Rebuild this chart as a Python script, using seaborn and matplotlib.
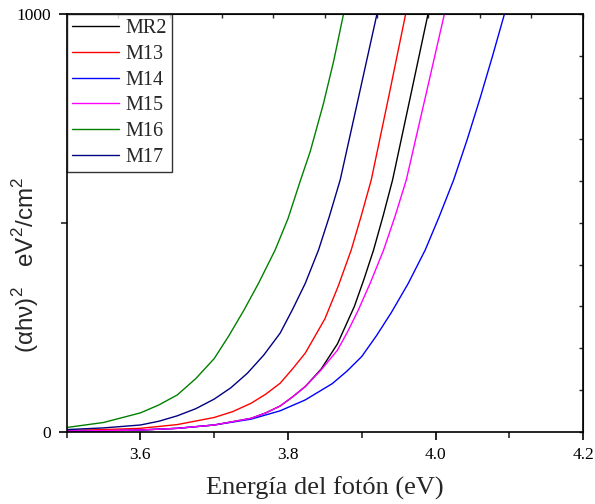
import pandas as pd
import matplotlib
matplotlib.use("Agg")
import matplotlib.pyplot as plt
import seaborn as sns
from matplotlib.ticker import MultipleLocator, FixedLocator, NullFormatter

muestras = ["MR2", "M13", "M14", "M15", "M16", "M17"]
colores = ["#000000", "#FF0000", "#0000FF", "#FF00FF", "#008000", "#000080"]

e_mr2 = [3.50, 3.55, 3.60, 3.65, 3.70, 3.75, 3.77, 3.7894, 3.806, 3.8234, 3.845, 3.867, 3.89,
         3.903, 3.916, 3.929, 3.9418, 3.9658, 3.9898]
a_mr2 = [1.5, 2.5, 4, 8, 16, 32, 45, 61.5, 83, 108, 150, 210, 300,
         365, 435, 517, 603, 801, 1000]

e_m13 = [3.50, 3.55, 3.60, 3.65, 3.70, 3.725, 3.75, 3.77, 3.7894, 3.806, 3.8234, 3.85, 3.868,
         3.8857, 3.899, 3.9129, 3.9364, 3.9595]
a_m13 = [3, 5, 8, 17, 34, 48, 68, 90, 116, 150, 188, 270, 348,
         435, 515, 603, 801, 1000]

e_m14 = [3.50, 3.55, 3.60, 3.65, 3.70, 3.75, 3.7894, 3.8234, 3.86, 3.88, 3.90, 3.92, 3.94,
         3.963, 3.986, 4.005, 4.0246, 4.043, 4.0608, 4.077, 4.0934]
a_m14 = [1, 2, 4, 8, 16, 30, 50, 76, 115, 145, 180, 230, 285,
         355, 435, 515, 603, 700, 801, 898, 1000]

e_m15 = [3.50, 3.55, 3.60, 3.65, 3.70, 3.75, 3.77, 3.7894, 3.806, 3.8234, 3.845, 3.867, 3.881,
         3.895, 3.912, 3.9296, 3.945, 3.9604, 3.973, 3.9862, 4.012]
a_m15 = [1.5, 2.5, 4, 8, 16, 32, 45, 61.5, 83, 108, 148, 195, 240,
         290, 358, 435, 515, 603, 700, 801, 1000]

e_m16 = [3.50, 3.55, 3.60, 3.625, 3.65, 3.675, 3.70, 3.72, 3.74, 3.76, 3.7826, 3.80, 3.8166,
         3.83, 3.848, 3.862, 3.8753]
a_m16 = [10, 22, 45, 64, 88, 127, 175, 230, 290, 355, 435, 510, 600,
         670, 785, 888, 1000]

e_m17 = [3.50, 3.55, 3.60, 3.625, 3.65, 3.675, 3.70, 3.7225, 3.745, 3.767, 3.7894, 3.806,
         3.8234, 3.8414, 3.856, 3.8708, 3.8957, 3.9206]
a_m17 = [5, 9, 16, 25, 38, 55, 78, 105, 140, 183, 236, 292,
         355, 435, 515, 603, 801, 1000]

series = {
    "MR2": (e_mr2, a_mr2), "M13": (e_m13, a_m13), "M14": (e_m14, a_m14),
    "M15": (e_m15, a_m15), "M16": (e_m16, a_m16), "M17": (e_m17, a_m17),
}
frames = [pd.DataFrame({"E": e, "a": a, "muestra": m}) for m, (e, a) in series.items()]
df = pd.concat(frames, ignore_index=True)

sns.set_style("ticks")
plt.rcParams["font.family"] = ["Liberation Serif", "DejaVu Serif"]
plt.rcParams["mathtext.fontset"] = "custom"
plt.rcParams["mathtext.rm"] = "Liberation Sans"

fig = plt.figure(figsize=(5.95, 5.04), dpi=100)
ax = fig.add_axes([0.112, 0.1435, 0.868, 0.8287])

sns.lineplot(data=df, x="E", y="a", hue="muestra", hue_order=muestras,
             palette=dict(zip(muestras, colores)), estimator=None, sort=False,
             linewidth=1.0, ax=ax)

ax.set_xlim(3.5, 4.2)
ax.set_ylim(0, 1000)
for s in ax.spines.values():
    s.set_linewidth(1.2)
    s.set_color("black")

ax.xaxis.set_major_locator(FixedLocator([3.6, 3.8, 4.0, 4.2]))
ax.xaxis.set_minor_locator(FixedLocator([3.5, 3.7, 3.9, 4.1]))
ax.set_xticklabels(["3.6", "3.8", "4.0", "4.2"])
ax.yaxis.set_major_locator(FixedLocator([0, 1000]))
ax.yaxis.set_minor_locator(FixedLocator([500]))
ax.set_yticklabels(["0", "1000"])
ax.tick_params(which="major", direction="out", length=6, width=1.2, labelsize=12.5,
               colors="black", pad=5)
ax.tick_params(which="minor", direction="out", length=4, width=1.2)

top = ax.secondary_xaxis("top")
top.xaxis.set_major_locator(MultipleLocator(0.07))
top.xaxis.set_major_formatter(NullFormatter())
top.tick_params(direction="in", length=3, width=1)
right = ax.secondary_yaxis("right")
right.yaxis.set_major_locator(MultipleLocator(100))
right.yaxis.set_major_formatter(NullFormatter())
right.tick_params(direction="in", length=3, width=1)

ax.set_xlabel("Energía del fotón (eV)", fontsize=19, labelpad=10)
ax.set_ylabel("(αhν)$^2$   eV$^2$/cm$^2$", fontsize=17.5, family="Liberation Sans")
ax.yaxis.set_label_coords(-0.05, 0.4)

handles, labels = ax.get_legend_handles_labels()
leg = ax.legend(handles, labels, loc="upper left", bbox_to_anchor=(0, 1),
                borderaxespad=0, frameon=True, fancybox=False, fontsize=14.5,
                handlelength=2.35, handletextpad=0.3, labelspacing=0.33,
                borderpad=0.25)
leg.get_frame().set_edgecolor("black")
leg.get_frame().set_linewidth(1.0)

fig.savefig("out.png", dpi=100)
